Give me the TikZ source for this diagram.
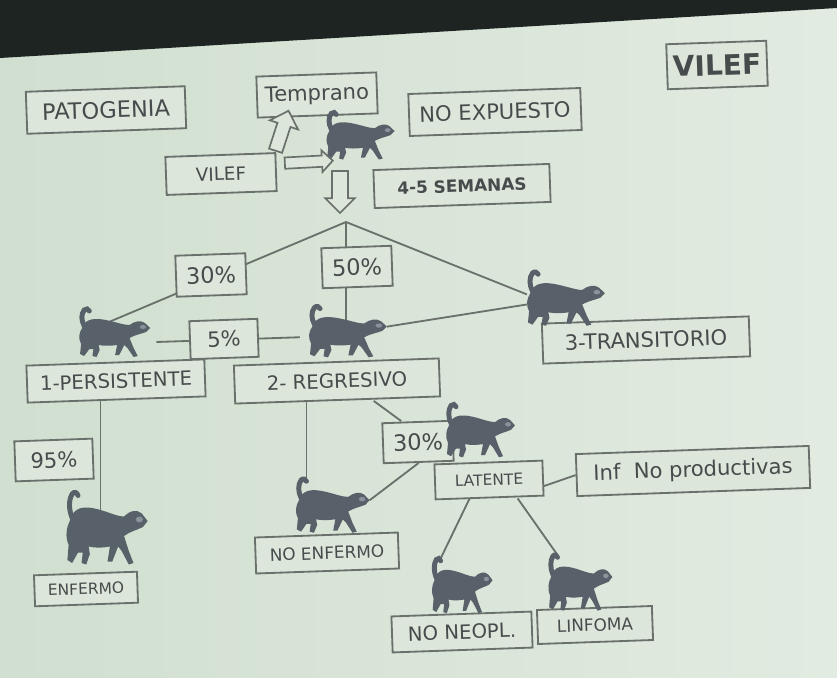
\documentclass[tikz,border=0pt]{standalone}
\usepackage{fontspec}
\setmainfont{DejaVu Sans}
\usetikzlibrary{shapes.arrows,backgrounds}
\definecolor{slideleft}{HTML}{D0DFCF}
\definecolor{slideright}{HTML}{E2EBE1}
\definecolor{boxbg}{HTML}{DCE6DB}
\definecolor{band}{HTML}{1E2422}
\definecolor{ink}{HTML}{464B4C}
\definecolor{boxline}{HTML}{6A706B}
\definecolor{catfill}{HTML}{586069}
\definecolor{catface}{HTML}{8A939B}

\pgfdeclarelayer{slide}
\pgfsetlayers{slide,background,main}

\newcommand{\tsize}[1]{\fontsize{#1}{#1}\selectfont}

% walking cat, facing right, tail up
\tikzset{
    gato/.pic={
        \fill[catfill] (-29,-6) .. controls (-26,-16) and (-16,-16) .. (-6,-14)
            .. controls (4,-12) and (11,-9) .. (17,-9)
            .. controls (22,-13) and (28,-14) .. (32,-11)
            -- (37,-6) -- (33,-2)
            .. controls (28,0) and (22,1) .. (17,4)
            -- (21,14) -- (25,22) -- (21,23) -- (15,14)
            -- (12,11) -- (7,21) -- (3,21) -- (5,11)
            .. controls (-2,12) and (-8,12) .. (-13,11)
            -- (-12,16) -- (-15,23) -- (-19,22) -- (-18,15)
            -- (-22,15) -- (-27,22) -- (-31,20) -- (-30,10)
            .. controls (-33,4) and (-32,-1) .. cycle;
        \draw[catfill, line width=3.5pt, line cap=round] (-27,-8)
            .. controls (-30,-14) and (-30,-20) .. (-27,-24)
            .. controls (-25,-26) and (-23,-25) .. (-22,-23);
        \fill[catface] (30,-7) ellipse (3 and 2);
        \coordinate (-top) at (-3,-12);
        \coordinate (-tail) at (-22,-25);
        \coordinate (-nose) at (37,-6);
        \coordinate (-rump) at (-32,-5);
        \coordinate (-hip) at (-32,4);
        \coordinate (-fore) at (43,8);
        \coordinate (-aft) at (-40,4);
    }
}

\begin{document}
\begin{tikzpicture}[
    x=0.025cm, y=-0.025cm,
    every node/.style={text=ink},
    caja/.style={
        draw=boxline,
        line width=1.3pt,
        fill=boxbg,
        rotate=2,
        inner sep=0pt,
        align=center,
    },
    tam/.style 2 args={minimum width=#1*0.025cm, minimum height=#2*0.025cm},
    linea/.style={draw=boxline, line width=1.3pt},
    flecha/.style={
        single arrow,
        draw=boxline,
        line width=1.2pt,
        fill=boxbg,
        inner xsep=0pt,
        single arrow head indent=0pt,
    },
]
\useasboundingbox (0,0) rectangle (837,678);

% === Slide and projector band ===
\begin{pgfonlayer}{slide}
    \shade[left color=slideleft, right color=slideright] (0,0) rectangle (837,678);
    \fill[band] (0,0) -- (837,0) -- (837,8) -- (0,58) -- cycle;
\end{pgfonlayer}

% === Header ===
\node[caja, tam={159}{42}, font=\tsize{16}] (patog) at (106,110) {PATOGENIA};
\node[caja, tam={120}{41}, font=\tsize{15}] (temp) at (317,95) {Temprano};
\node[caja, tam={172}{42}, font=\tsize{15}] (noexp) at (495,112) {NO EXPUESTO};
\node[caja, tam={100}{45}, font=\tsize{20}\bfseries] (vilefb) at (717,65) {VILEF};
\node[caja, tam={110}{38}, font=\tsize{13}] (vilef) at (221,174) {VILEF};
\node[caja, tam={176}{38}, font=\tsize{12}\bfseries] (sem) at (462,186) {4-5 SEMANAS};

\pic[xscale=0.99, yscale=0.98] (g0) at (358,137) {gato};

% hollow arrows round the first cat
\node[flecha, minimum height=1.05cm, inner ysep=0.15cm,
    single arrow head extend=0.2cm, rotate=72] (upar) at (281,134) {};
\node[flecha, minimum height=1.2cm, inner ysep=0.12cm,
    single arrow head extend=0.13cm, rotate=3] (rtar) at (306,162) {};
\node[flecha, minimum height=1.05cm, inner ysep=0.18cm,
    single arrow head extend=0.17cm, rotate=-90] (dnar) at (340,188) {};

% === Three courses ===
\coordinate (apex) at (346,222);
\node[caja, tam={70}{41}, font=\tsize{16}] (p30) at (211,275) {30\%};
\node[caja, tam={70}{40}, font=\tsize{16}] (p50) at (357,267) {50\%};
\node[caja, tam={68}{38}, font=\tsize{15}] (p5) at (224,339) {5\%};
\node[caja, tam={178}{37}, font=\tsize{14}] (pers) at (116,381) {1-PERSISTENTE};
\node[caja, tam={205}{38}, font=\tsize{14}] (regr) at (337,381) {2- REGRESIVO};
\node[caja, tam={207}{40}, font=\tsize{15}] (trans) at (646,340) {3-TRANSITORIO};

\pic[xscale=1.03, yscale=1.0] (g1) at (112,334) {gato};
\pic[xscale=1.13, yscale=1.06] (g2) at (345,333) {gato};
\pic[xscale=1.13, yscale=1.12] (g3) at (563,300) {gato};

% === Outcomes ===
\node[caja, tam={78}{40}, font=\tsize{15}] (p95) at (54,460) {95\%};
\node[caja, tam={103}{31}, font=\tsize{11}] (enf) at (86,589) {ENFERMO};
\node[caja, tam={143}{36}, font=\tsize{12}] (noenf) at (327,553) {NO ENFERMO};
\node[caja, tam={70}{40}, font=\tsize{16}] (p30b) at (418,442) {30\%};
\node[caja, tam={108}{35}, font=\tsize{11}] (lat) at (489,480) {LATENTE};
\node[caja, tam={233}{42}, font=\tsize{15}] (inf) at (693,471) {Inf\ \ No productivas};
\node[caja, tam={140}{36}, font=\tsize{14}] (neopl) at (462,632) {NO NEOPL.};
\node[caja, tam={115}{34}, font=\tsize{12}] (linf) at (595,625) {LINFOMA};

\pic[xscale=1.18, yscale=1.5] (g4) at (104,530) {gato};
\pic[xscale=1.07, yscale=1.12] (g5) at (330,507) {gato};
\pic[xscale=1.0, yscale=1.1] (g6) at (478,432) {gato};
\pic[xscale=0.88, yscale=1.14] (g7) at (460,587) {gato};
\pic[xscale=0.93, yscale=1.16] (g8) at (578,584) {gato};

% === Links (behind the boxes) ===
\begin{scope}[on background layer]
    \draw[linea] (apex) -- (g1-top);
    \draw[linea] (apex) -- (apex |- g2-top);
    \draw[linea] (apex) -- (g3-rump);
    \draw[linea] (g2-nose) -- (g3-hip);
    \draw[linea] (g1-fore) -- (g2-aft);
    \draw[linea] (g4-top) -- (g4-top |- pers.south);
    \draw[linea] (g5-tail) -- (g5-tail |- regr.south);
    \draw[linea] ([xshift=0.9cm]regr.south) -- ([xshift=-0.4cm]p30b.north);
    \draw[linea] (p30b.south) -- (g5-nose);
    \draw[linea] ([yshift=-0.2cm]lat.east) -- (inf.west);
    \draw[linea] ([xshift=-0.5cm]lat.south) -- (g7-tail);
    \draw[linea] ([xshift=0.7cm]lat.south) -- (g8-tail);
\end{scope}

\end{tikzpicture}
\end{document}
